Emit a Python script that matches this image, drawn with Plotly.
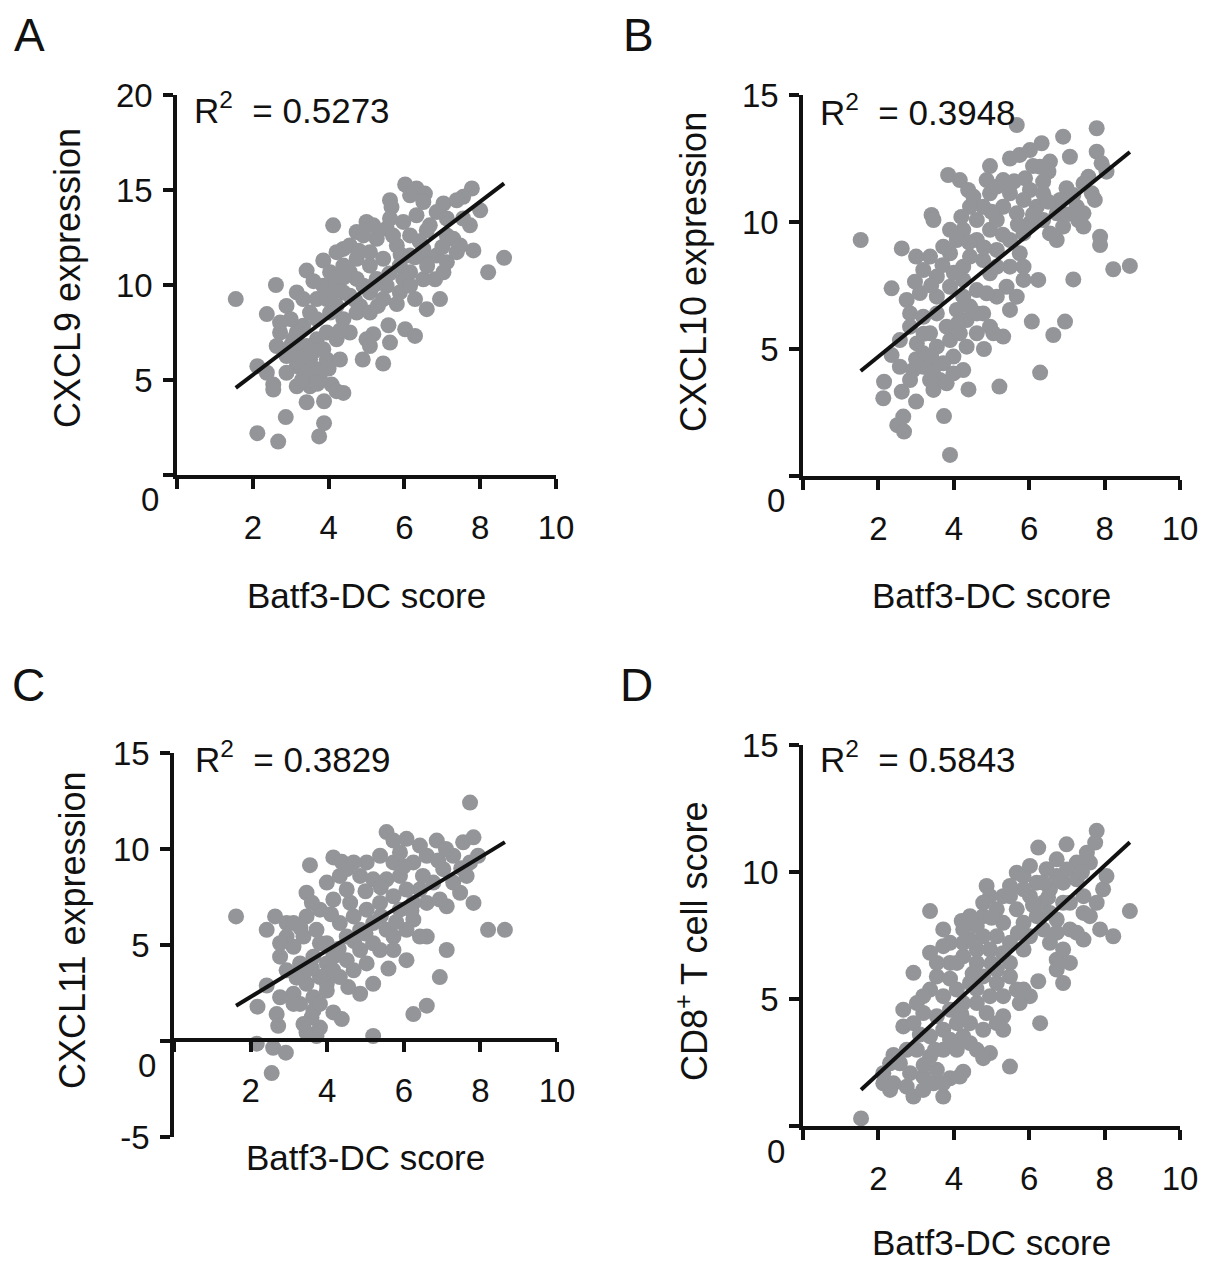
import plotly.graph_objects as go

# ---------------- data ----------------
x_title = "Batf3-DC score"
x_ticks = [0, 2, 4, 6, 8, 10]
x_ticktext = ["", "2", "4", "6", "8", "10"]

panel_letters = ["A", "B", "C", "D"]
y_titles = ["CXCL9 expression", "CXCL10 expression", "CXCL11 expression",
            "CD8<sup>+</sup> T cell score"]
r2_values = ["0.5273", "0.3948", "0.3829", "0.5843"]
y_ranges = [(0, 20), (0, 15), (-5, 15), (0, 15)]
y_ticks = [[0, 5, 10, 15, 20], [0, 5, 10, 15], [-5, 0, 5, 10, 15], [0, 5, 10, 15]]

# regression lines: (slope, intercept)
fit_slopes = [1.52, 1.207, 1.214, 1.367]
fit_intercepts = [2.23, 2.29, -0.13, -0.68]

a_points = [
    (1.55, 9.26), (2.12, 2.2), (2.67, 1.76), (2.87, 3.05), (3.75, 2.03), (3.88, 2.73), (3.42, 3.83), (3.88, 3.88),
    (2.37, 8.47), (2.61, 10.0), (2.12, 5.73), (2.37, 5.38), (2.54, 4.76), (2.54, 4.5), (3.16, 4.67), (4.08, 4.76),
    (4.21, 4.41), (4.39, 4.32), (4.12, 13.14), (4.9, 6.08), (5.44, 5.87), (5.58, 7.88), (5.18, 7.41), (5.0, 7.14),
    (5.09, 6.79), (5.62, 6.97), (6.02, 7.67), (6.28, 7.32), (6.28, 9.26), (6.59, 8.73), (6.94, 9.26), (6.81, 10.3),
    (7.03, 10.67), (7.12, 11.2), (8.21, 10.67), (8.63, 11.43), (7.82, 11.82), (7.47, 12.08), (7.38, 11.73), (7.73, 13.14),
    (8.0, 13.93), (7.78, 15.08), (7.55, 14.64), (7.03, 14.29), (7.12, 12.61), (6.59, 12.87), (6.54, 14.81), (6.32, 15.08),
    (6.02, 15.29), (5.62, 14.46), (5.66, 14.1), (6.59, 11.29), (6.28, 11.46), (5.97, 10.32), (5.53, 9.96), (5.09, 9.61),
    (4.83, 8.9), (5.0, 13.32), (4.74, 12.79), (4.39, 11.9), (3.86, 11.29), (3.42, 10.76), (3.16, 9.61), (2.89, 8.9),
    (2.72, 7.5), (2.63, 6.79), (2.89, 6.26), (3.16, 5.73), (3.42, 5.38), (3.69, 5.56), (3.95, 6.08), (4.3, 6.08),
    (4.56, 7.5), (4.39, 8.2), (4.04, 8.55), (3.69, 9.26), (3.51, 8.55), (3.33, 7.85), (3.07, 7.14), (3.69, 7.14),
    (3.95, 7.5), (3.86, 9.96), (4.21, 10.32), (4.56, 10.67), (4.74, 11.38), (5.09, 11.73), (5.27, 12.43), (5.53, 12.96),
    (5.97, 13.32), (6.32, 13.67), (6.67, 13.14), (5.8, 12.08), (5.44, 11.38), (5.88, 11.02), (6.15, 10.67), (5.27, 10.32),
    (4.92, 9.96), (4.56, 9.44), (4.21, 8.9), (3.16, 6.44), (3.51, 6.08), (3.78, 5.03), (2.89, 5.38), (3.51, 4.67),
    (4.74, 8.55), (5.09, 8.55), (5.44, 9.26), (5.88, 9.61), (6.15, 9.96), (6.5, 10.3), (6.85, 11.55), (7.29, 12.43),
    (7.55, 13.5), (7.38, 14.46), (6.85, 13.84), (6.15, 12.61), (5.09, 11.02), (4.74, 10.32), (4.39, 9.61), (3.95, 9.26),
    (3.69, 8.2), (3.33, 9.26), (3.0, 8.2), (2.72, 8.02), (4.39, 11.02), (4.04, 10.67), (5.62, 13.5), (5.18, 13.14),
    (4.92, 12.61), (4.56, 12.08), (4.21, 11.73), (4.12, 9.61), (3.42, 6.79), (3.86, 6.62), (4.21, 7.14), (3.16, 7.5),
    (6.15, 11.55), (6.5, 11.9), (7.12, 13.5), (6.5, 14.37), (6.15, 14.72),
    (3.3, 6.2), (3.6, 6.5), (3.0, 6.8), (3.3, 5.0), (3.7, 4.8), (4.0, 5.6), (4.3, 7.6), (4.7, 9.2),
    (5.2, 10.0), (5.6, 10.6), (5.9, 11.6), (6.4, 12.3), (4.8, 11.8), (4.4, 10.4), (3.6, 10.2), (5.3, 8.9),
    (5.8, 9.0), (6.6, 11.0), (7.0, 12.0), (5.7, 12.6),
]

b_points = [
    (1.53, 9.29), (3.9, 0.83), (3.74, 2.36), (2.66, 2.34), (2.5, 2.0), (2.68, 1.75), (2.13, 3.06), (2.15, 3.71),
    (3.0, 2.93), (2.62, 3.32), (2.57, 4.3), (2.35, 4.76), (2.35, 7.39), (2.97, 7.65), (2.62, 8.96), (3.85, 11.85),
    (3.41, 10.28), (3.46, 10.08), (5.67, 13.82), (4.96, 12.2), (4.16, 11.65), (4.38, 11.26), (5.49, 12.5), (5.75, 12.64),
    (6.02, 12.83), (6.33, 13.1), (6.9, 13.36), (7.08, 12.57), (7.79, 13.69), (7.79, 12.77), (7.92, 12.31), (8.05, 11.98),
    (7.57, 11.78), (6.55, 12.38), (6.51, 11.98), (6.37, 11.59), (5.89, 11.72), (6.02, 11.26), (6.99, 11.33), (7.17, 11.06),
    (7.66, 11.13), (7.74, 10.87), (7.3, 10.08), (7.44, 9.82), (7.88, 9.42), (7.88, 9.09), (8.23, 8.14), (8.67, 8.27),
    (7.17, 7.74), (6.24, 7.72), (5.85, 7.72), (6.07, 6.08), (6.95, 6.08), (6.64, 5.55), (6.29, 4.07), (5.21, 3.52),
    (4.39, 3.41), (4.25, 4.17), (5.31, 5.49), (5.05, 5.62), (5.49, 6.54), (5.67, 7.06), (5.4, 7.45), (4.96, 7.98),
    (4.61, 7.32), (4.25, 8.24), (3.9, 8.77), (3.37, 8.64), (3.0, 8.64), (3.19, 8.11), (3.55, 7.85), (3.9, 7.45),
    (3.55, 7.06), (2.75, 6.93), (2.84, 6.4), (3.19, 6.27), (3.55, 6.4), (3.81, 5.88), (3.37, 5.62), (3.02, 5.22),
    (3.19, 4.83), (3.55, 5.09), (3.9, 5.35), (4.16, 5.62), (4.34, 6.14), (4.08, 6.54), (4.43, 6.67), (4.78, 6.4),
    (4.96, 5.88), (4.61, 5.62), (4.34, 5.09), (3.99, 4.7), (3.72, 4.44), (3.45, 4.17), (3.63, 3.78), (3.46, 3.39),
    (3.81, 3.65), (3.99, 4.04), (2.92, 4.17), (2.84, 3.78), (3.19, 4.3), (4.61, 9.29), (4.96, 9.69), (5.14, 10.08),
    (5.31, 10.6), (4.96, 11.13), (4.78, 10.6), (4.61, 10.08), (4.43, 10.6), (4.25, 9.69), (4.08, 9.29), (3.72, 9.03),
    (5.14, 8.9), (5.49, 9.29), (5.85, 9.55), (6.02, 9.95), (5.67, 10.34), (5.49, 11.13), (5.31, 11.65), (5.85, 10.87),
    (6.2, 10.6), (6.37, 10.08), (6.55, 9.55), (6.73, 9.29), (6.9, 9.82), (6.73, 10.34), (6.37, 11.13), (6.82, 10.87),
    (7.26, 10.6), (7.44, 10.34), (5.75, 8.77), (5.49, 8.24), (5.14, 8.24), (4.78, 8.5), (4.43, 8.64), (5.85, 8.24),
    (5.14, 7.06), (4.87, 7.19), (4.25, 7.06), (4.61, 6.4), (2.84, 5.88), (2.57, 5.35), (3.37, 3.78), (4.25, 7.72),
    (3.9, 9.69), (4.52, 11.0), (4.87, 11.65), (5.14, 11.39), (6.28, 12.18), (7.44, 11.52),
    (3.1, 7.2), (3.4, 7.5), (3.7, 8.3), (4.0, 8.0), (4.4, 9.2), (4.8, 9.0), (5.3, 9.5), (5.7, 9.9),
    (6.1, 10.3), (6.5, 10.8), (5.0, 10.4), (4.2, 10.2), (5.6, 11.6), (6.1, 12.2), (7.0, 10.3), (3.4, 4.7),
    (3.2, 5.6), (4.1, 6.0), (4.8, 5.0), (3.0, 4.6),
]

c_points = [
    (1.62, 6.49), (7.73, 12.42), (2.55, -1.67), (2.16, -0.14), (2.59, -0.35), (2.92, -0.61), (5.2, 0.26), (3.72, 0.26),
    (3.46, 0.44), (3.81, 0.7), (3.59, 1.23), (2.72, 0.79), (2.68, 1.4), (2.18, 1.79), (2.42, 2.89), (4.16, 1.49),
    (4.38, 1.14), (6.25, 1.4), (6.6, 1.84), (6.94, 3.33), (7.12, 4.74), (6.07, 4.21), (5.6, 3.77), (5.2, 2.98),
    (4.86, 2.46), (4.55, 2.81), (2.42, 5.79), (2.64, 6.49), (2.94, 6.14), (3.46, 7.72), (3.55, 9.16), (4.16, 9.56),
    (4.38, 9.33), (5.55, 10.88), (5.73, 10.44), (6.07, 10.53), (6.86, 10.44), (7.55, 10.35), (7.82, 10.61), (7.94, 9.65),
    (8.2, 5.79), (8.64, 5.79), (7.82, 7.19), (7.47, 7.72), (7.12, 7.02), (6.6, 7.19), (6.6, 5.44), (6.25, 6.32),
    (5.9, 6.84), (5.55, 5.79), (5.2, 5.09), (4.86, 4.74), (4.51, 4.21), (4.16, 3.68), (3.81, 3.33), (3.46, 2.98),
    (3.12, 2.46), (3.29, 1.93), (3.64, 2.28), (3.99, 2.63), (2.94, 3.68), (2.77, 4.39), (3.12, 4.91), (3.38, 5.44),
    (3.72, 5.79), (3.99, 5.09), (4.16, 4.39), (3.64, 4.39), (3.46, 3.68), (3.81, 6.84), (4.16, 7.37), (4.51, 7.89),
    (4.86, 8.6), (5.03, 9.3), (5.38, 9.65), (5.73, 9.3), (5.2, 8.42), (5.55, 8.42), (5.9, 8.6), (6.25, 9.3),
    (6.6, 9.65), (7.03, 8.95), (7.29, 8.25), (7.64, 8.6), (7.73, 9.3), (7.29, 9.65), (6.77, 8.25), (6.42, 7.89),
    (6.07, 7.89), (5.73, 7.54), (5.38, 7.19), (5.03, 6.84), (4.69, 6.49), (4.33, 6.14), (4.86, 5.79), (4.51, 5.44),
    (5.2, 6.14), (5.73, 5.44), (5.38, 4.74), (5.03, 4.04), (4.69, 3.68), (4.33, 3.33), (3.99, 4.04), (3.46, 6.49),
    (3.12, 6.14), (2.94, 5.44), (2.77, 5.09), (3.99, 8.25), (4.33, 8.6), (4.51, 8.95), (4.69, 9.3), (5.9, 9.82),
    (6.42, 10.18), (6.94, 7.37), (6.25, 7.19), (6.07, 5.79), (6.42, 5.44), (3.64, 1.58), (3.38, 0.88), (3.12, 1.93),
    (2.77, 2.28), (3.81, 1.93), (3.99, 2.98), (3.29, 4.04), (3.81, 5.09), (5.73, 4.74),
    (3.2, 3.3), (3.6, 3.8), (4.0, 3.5), (4.3, 4.8), (4.7, 5.2), (5.0, 5.6), (5.4, 6.5), (5.8, 6.2),
    (6.2, 6.8), (6.5, 8.6), (6.9, 9.4), (7.5, 9.0), (4.6, 7.2), (4.1, 6.6), (3.6, 7.2), (3.3, 5.9),
    (5.0, 7.8), (5.4, 8.0), (6.0, 9.1), (7.1, 10.0),
]

d_points = [
    (1.54, 0.3), (3.72, 1.16), (3.37, 8.46), (4.21, 8.07), (2.93, 6.03), (7.79, 11.62), (7.75, 11.16), (6.99, 11.09),
    (6.24, 10.96), (8.67, 8.46), (8.23, 7.47), (7.88, 7.74), (7.96, 9.32), (8.05, 9.84), (7.61, 10.37), (7.53, 10.76),
    (7.26, 9.71), (7.44, 8.39), (7.44, 7.34), (7.08, 7.74), (6.73, 6.55), (6.24, 5.7), (6.29, 4.05), (5.49, 2.34),
    (4.96, 2.87), (4.78, 2.67), (4.25, 2.14), (3.9, 1.88), (6.02, 5.11), (5.67, 5.37), (5.31, 4.32), (5.14, 4.05),
    (4.87, 4.45), (4.61, 4.84), (4.87, 9.45), (4.96, 9.05), (5.67, 9.97), (6.02, 10.24), (6.46, 10.11), (6.55, 9.32),
    (6.9, 8.79), (6.73, 8.13), (6.37, 7.74), (6.02, 7.47), (5.67, 8.53), (5.49, 9.05), (5.31, 8.0), (5.14, 7.47),
    (4.96, 6.95), (4.78, 7.47), (4.61, 6.95), (4.43, 7.34), (4.25, 6.68), (3.9, 6.42), (3.72, 7.08), (3.37, 6.82),
    (3.55, 5.89), (3.37, 5.37), (3.19, 5.11), (2.66, 4.58), (2.66, 3.92), (2.93, 4.05), (2.4, 2.8), (2.31, 2.47),
    (2.13, 1.68), (2.4, 1.68), (2.75, 1.55), (2.93, 1.16), (3.19, 1.42), (3.46, 1.68), (3.19, 1.95), (2.84, 2.08),
    (2.57, 2.47), (2.75, 3.0), (3.02, 3.0), (3.37, 2.74), (3.55, 2.21), (3.72, 3.0), (3.37, 3.53), (3.72, 3.79),
    (3.55, 4.32), (3.9, 4.58), (4.08, 4.05), (4.25, 3.53), (4.08, 3.0), (4.43, 3.26), (4.43, 4.05), (4.25, 4.84),
    (4.08, 5.37), (3.72, 5.11), (4.43, 5.63), (4.78, 5.89), (4.61, 6.42), (5.14, 6.16), (5.49, 6.42), (5.85, 6.95),
    (5.49, 7.21), (5.85, 8.0), (6.2, 8.26), (6.02, 9.05), (6.37, 8.79), (6.2, 9.58), (5.85, 9.84), (5.31, 9.05),
    (5.14, 8.53), (4.78, 8.26), (4.61, 7.87), (4.25, 7.21), (4.08, 6.42), (3.55, 6.42), (3.9, 7.21), (5.14, 5.63),
    (5.49, 5.89), (5.85, 5.37), (5.75, 4.84), (5.31, 5.11), (4.96, 5.11), (4.78, 3.79), (4.61, 3.0), (5.31, 3.79),
    (6.55, 7.21), (6.9, 6.95), (7.08, 6.42), (6.73, 6.16), (6.9, 5.63), (7.26, 7.61), (6.73, 7.61), (6.55, 8.39),
    (7.08, 8.79), (7.61, 8.26), (7.79, 8.79), (7.44, 9.05), (6.9, 9.58), (6.73, 9.84), (7.26, 10.37), (6.73, 10.5),
    (6.37, 9.58), (5.85, 9.32), (5.49, 9.45), (4.78, 8.79), (4.43, 8.26), (4.25, 7.74), (3.72, 7.74), (3.19, 4.45),
    (3.02, 4.84), (3.72, 1.68), (4.16, 1.95), (2.13, 2.08), (2.31, 1.42),
    (3.1, 3.6), (3.5, 3.0), (3.9, 3.4), (4.2, 4.4), (4.6, 5.4), (5.0, 6.4), (5.3, 6.8), (5.7, 7.6),
    (6.1, 8.7), (6.5, 9.0), (7.0, 10.1), (7.4, 10.0), (5.0, 8.2), (4.5, 6.0), (3.9, 5.8), (3.2, 2.4),
]

all_points = [a_points, b_points, c_points, d_points]

# ---------------- layout / styling ----------------
# The page body keeps an 8 px margin, so the figure is sized to fit the
# 1208x1269 window exactly and page-pixel positions are shifted by that margin.
PAGE_W, PAGE_H = 1208, 1269
OFF = 8
W, H = PAGE_W - 2 * OFF, PAGE_H - 2 * OFF
FONT = "Liberation Sans, Arial, Helvetica, sans-serif"
INK = "#111111"
DOT = "#939598"


def fx(p):
    return (p - OFF) / W


def fy(p):
    return 1 - (p - OFF) / H


# pixel boxes on the page: (x_left, x_right, y_bottom, y_top, y_zero_px, xaxis_at_px)
boxes = [
    (177, 556, 475, 95, 475, 475),
    (803, 1180, 476, 95, 476, 476),
    (174, 557, 1137, 753, 1040, 1040),
    (803, 1180, 1126, 745, 1126, 1126),
]
letter_pos = [(29, 35), (638, 35), (28, 685), (636, 685)]
ytitle_pos = [(67, 278), (693, 272), (72, 930), (692, 941)]
xtitle_y = [596, 596, 1157, 1242]
r2_pos = [(192, 108), (818, 110), (193, 757), (818, 757)]

fig = go.Figure()
annotations = []
layout_axes = {}

for i in range(4):
    n = "" if i == 0 else str(i + 1)
    pts = all_points[i]
    xs = [p[0] for p in pts]
    ys = [p[1] for p in pts]
    xl, xr, yb, yt, y0px, xat = boxes[i]

    fig.add_trace(go.Scatter(
        x=xs, y=ys, mode="markers", xaxis="x" + n, yaxis="y" + n,
        marker=dict(size=16, color=DOT, line=dict(width=0)),
        showlegend=False, hoverinfo="skip", cliponaxis=False))
    lx = [min(xs), max(xs)]
    ly = [fit_slopes[i] * v + fit_intercepts[i] for v in lx]
    fig.add_trace(go.Scatter(
        x=lx, y=ly, mode="lines", xaxis="x" + n, yaxis="y" + n,
        line=dict(color=INK, width=4), showlegend=False, hoverinfo="skip"))

    xa = dict(
        domain=[fx(xl), fx(xr)], range=[0, 10],
        showline=True, linewidth=3.5, linecolor=INK,
        ticks="outside", ticklen=10, tickwidth=3.5, tickcolor=INK,
        tickmode="array", tickvals=x_ticks, ticktext=x_ticktext,
        tickfont=dict(family=FONT, size=33, color=INK),
        ticklabelstandoff=11, automargin=False,
        showgrid=False, zeroline=False, fixedrange=True,
    )
    if xat != yb:
        xa["anchor"] = "free"
        xa["position"] = fy(xat)
    else:
        xa["anchor"] = "y" + n
    ytv = y_ticks[i]
    yta = ["" if v == 0 else str(v) for v in ytv]
    ya = dict(
        domain=[fy(yb), fy(yt)], range=list(y_ranges[i]), anchor="x" + n,
        showline=True, linewidth=3.5, linecolor=INK,
        ticks="outside", ticklen=10, tickwidth=3.5, tickcolor=INK,
        tickmode="array", tickvals=ytv, ticktext=yta,
        tickfont=dict(family=FONT, size=33, color=INK),
        ticklabelstandoff=4, automargin=False,
        showgrid=False, zeroline=False, fixedrange=True,
    )
    layout_axes["xaxis" + n] = xa
    layout_axes["yaxis" + n] = ya

    # shifted "0" label of the y axis
    annotations.append(dict(
        text="0", x=fx(xl - 16), y=fy(y0px + 25), xref="paper", yref="paper",
        xanchor="right", yanchor="middle", showarrow=False,
        font=dict(family=FONT, size=33, color=INK)))
    # panel letter
    annotations.append(dict(
        text=panel_letters[i], x=fx(letter_pos[i][0]), y=fy(letter_pos[i][1]),
        xref="paper", yref="paper", xanchor="center", yanchor="middle",
        showarrow=False, font=dict(family=FONT, size=46, color=INK)))
    # axis titles
    annotations.append(dict(
        text=x_title, x=fx((xl + xr) / 2), y=fy(xtitle_y[i]),
        xref="paper", yref="paper", xanchor="center", yanchor="middle",
        showarrow=False, font=dict(family=FONT, size=35, color=INK)))
    annotations.append(dict(
        text=y_titles[i], x=fx(ytitle_pos[i][0]), y=fy(ytitle_pos[i][1]),
        xref="paper", yref="paper", xanchor="center", yanchor="middle",
        textangle=-90, showarrow=False,
        font=dict(family=FONT, size=36, color=INK)))
    # R^2 label
    annotations.append(dict(
        text="R<sup>2</sup>  = " + r2_values[i], x=fx(r2_pos[i][0]), y=fy(r2_pos[i][1]),
        xref="paper", yref="paper", xanchor="left", yanchor="middle",
        showarrow=False, font=dict(family=FONT, size=35, color=INK)))

fig.update_layout(
    width=W, height=H, margin=dict(l=0, r=0, t=0, b=0, autoexpand=False),
    paper_bgcolor="white", plot_bgcolor="white",
    showlegend=False, annotations=annotations,
    font=dict(family=FONT, color=INK),
    **layout_axes,
)

fig.write_html("out.html")
